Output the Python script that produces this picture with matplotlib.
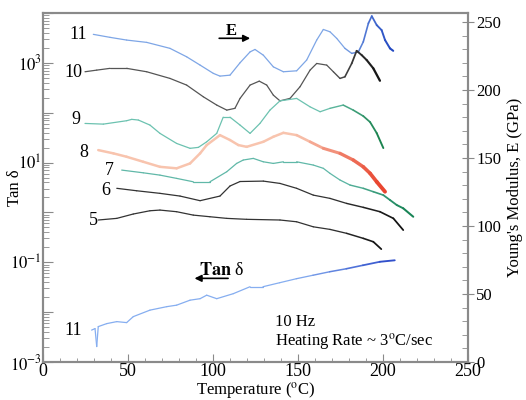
import numpy as np
import matplotlib
matplotlib.use("Agg")
import matplotlib.pyplot as plt
from matplotlib.collections import LineCollection
from matplotlib.colors import to_rgb
from matplotlib.ticker import MultipleLocator, LogLocator, FixedLocator, NullFormatter, FuncFormatter

# ---------------- data ----------------
T11 = [29.6, 39.4, 49.2, 61, 74.7, 84.5, 92.4, 100.2, 104.1, 110, 115.9, 121.8, 124.7, 129.6, 135.5, 141.4, 149.2, 155.1, 161, 164.9, 168.8, 172.8, 177.6, 181.6, 185.5, 188.4, 191.4, 193.4, 196.3, 199.2, 201.2, 204.1, 206]
E11 = [240.9, 238.7, 236.7, 235, 230.6, 224.4, 218.3, 212.2, 210.2, 210.9, 220, 228, 229.8, 225.6, 217, 213.4, 214.1, 222, 236.7, 244.5, 242.8, 237.9, 230.6, 226.9, 228, 235.4, 249, 254.3, 247.7, 244, 236.7, 230.6, 228.8]

T10 = [24.7, 31.6, 39.4, 49.2, 61, 74.7, 84.5, 94.3, 102.2, 108.1, 112.9, 115.9, 121.8, 127.2, 131.6, 135.5, 139.4, 145.3, 151.2, 157.1, 161, 166.9, 170.8, 174.7, 177.6, 181.6, 184.5, 187.5, 190.4, 194.3, 198.2]
E10 = [213.4, 214.6, 215.9, 215.9, 213.4, 208.5, 203.6, 195, 188.9, 185.2, 186.5, 193.8, 203.6, 206.5, 203.6, 196.2, 192, 193.8, 202.4, 214.6, 219.5, 218.3, 213.4, 208.5, 209.7, 219.5, 228.8, 225.6, 222, 215.9, 206.8]

T9 = [24.7, 35.5, 49.2, 52.2, 56.1, 62.9, 68.8, 78.6, 86.5, 91.4, 96.3, 102.2, 106, 110, 115.9, 121.8, 127.6, 133.5, 139.4, 149.2, 157.1, 163, 168.8, 176.6, 182.5, 188.4, 192.4, 196.3, 200.2]
E9 = [175.4, 174.9, 177.4, 178.4, 177.9, 174.2, 168.1, 160.7, 157.1, 157.8, 161.9, 168.1, 180, 180, 174.2, 168.1, 175.4, 185.2, 192, 193.8, 187.6, 184, 186.5, 188.9, 185.2, 180.8, 176.4, 168.3, 157.3]

T8 = [32.5, 41.4, 49.2, 59, 68.8, 78.6, 86.5, 92.4, 96.3, 104.1, 110, 114.9, 119.8, 129.6, 135.5, 141.4, 149.2, 157.1, 164.9, 174.7, 182.5, 188.4, 192.4, 196.3, 201.2]
E8 = [155.8, 153.4, 150.9, 147.2, 143.5, 142.4, 146, 153.4, 159.5, 166.8, 163.2, 159.5, 158.2, 161.9, 165.6, 168.5, 166.8, 161.9, 157.1, 153.4, 148.5, 143.5, 138.7, 132.5, 125.2]

T7 = [46.3, 59, 68.8, 78.6, 88.4, 98.2, 108.1, 113.9, 117.8, 123.7, 129.6, 135.5, 141.4, 149.2, 159, 164.9, 168.8, 174.7, 180.6, 188.4, 194.3, 200.2, 204.1, 208.1, 211.9, 217.8]
E7 = [141.1, 139.1, 137.4, 135, 132.5, 132.5, 139.9, 146, 148.5, 149.7, 147.2, 146, 147.2, 147.2, 144.8, 142.4, 138.7, 133.8, 130.1, 127.7, 125.2, 122.7, 119.1, 115.4, 113, 106.8]

T6 = [43.4, 55.1, 68.8, 80.6, 92.4, 104.1, 110, 115.9, 129.6, 139.4, 149.2, 159, 168.8, 178.6, 188.4, 198.2, 206.1, 211.9]
E6 = [127.7, 125.9, 124, 122, 118.6, 122, 129.4, 132.7, 133, 131.3, 127.7, 122.7, 120.3, 116.6, 113.7, 110.5, 105.6, 97]

T5 = [32.5, 43.4, 53.1, 62.9, 68.8, 78.6, 88.4, 98.2, 108.1, 119.8, 139.4, 149.2, 159, 168.8, 178.6, 188.4, 194.3, 199]
E5 = [104.4, 105.6, 108.8, 111.2, 111.7, 110.5, 108, 106.8, 105.6, 104.9, 104.4, 103.1, 99.4, 97.5, 94.6, 90.9, 88.4, 83]

# Tan delta of sample 11 (left, log axis): log10 values
Ttan = [28.6, 30.6, 31.6, 32.5, 37.5, 43.4, 49.2, 53.1, 62.9, 72.8, 78.6, 86.5, 92.4, 96.3, 102.2, 111.9, 121.8, 129.4, 139.2, 149, 158.8, 168.6, 178.4, 188.2, 198.1, 206.9]
logtan11 = [-2.36, -2.33, -2.69, -2.29, -2.23, -2.19, -2.21, -2.09, -1.96, -1.89, -1.86, -1.76, -1.73, -1.66, -1.73, -1.63, -1.49, -1.49, -1.41, -1.33, -1.26, -1.19, -1.13, -1.06, -0.99, -0.96]
tan11 = [10 ** v for v in logtan11]

labels = ["11", "10", "9", "8", "7", "6", "5"]

# ---------------- style ----------------
plt.rcParams['font.family'] = 'serif'
plt.rcParams['font.serif'] = ['Liberation Serif', 'DejaVu Serif']
plt.rcParams['mathtext.fontset'] = 'stix'

fig = plt.figure(figsize=(5.26, 4.0), dpi=100)
ax = fig.add_axes([43/526, 1-362/400, (468-43)/526, (362-13)/400])
ax2 = ax.twinx()

def grad_line(axis, x, y, c0, c1, t0, lw0=1.0, lw1=1.0, z=3):
    x = np.asarray(x, float); y = np.asarray(y, float)
    pts = np.column_stack([x, y]).reshape(-1, 1, 2)
    segs = np.concatenate([pts[:-1], pts[1:]], axis=1)
    xm = 0.5 * (x[:-1] + x[1:])
    f = np.clip((xm - t0) / (x[-1] - t0), 0, 1)
    a, b = np.array(to_rgb(c0)), np.array(to_rgb(c1))
    cols = a[None, :] * (1 - f[:, None]) + b[None, :] * f[:, None]
    lws = lw0 + (lw1 - lw0) * f
    lc = LineCollection(segs, colors=cols, linewidths=lws, zorder=z, capstyle='round', joinstyle='round')
    axis.add_collection(lc)

grad_line(ax2, T11, E11, '#7ea6e6', '#1f45c0', 175, 0.9, 1.5)
grad_line(ax2, T10, E10, '#555555', '#111111', 170, 0.9, 1.7)
grad_line(ax2, T9, E9, '#6cc2b0', '#17804a', 165, 0.9, 1.4)
grad_line(ax2, T8, E8, '#f8c4ae', '#e8402a', 150, 1.8, 2.8)
grad_line(ax2, T7, E7, '#60b8a8', '#138050', 175, 0.9, 1.5)
grad_line(ax2, T6, E6, '#333333', '#111111', 170, 0.9, 1.3)
grad_line(ax2, T5, E5, '#333333', '#111111', 170, 0.9, 1.3)
grad_line(ax, Ttan, tan11, '#86aef0', '#2a48c8', 150, 0.9, 1.4)

# axes ranges & ticks
ax.set_xlim(0, 250)
ax.set_yscale('log')
ax.set_ylim(1e-3, 1e4)
ax2.set_ylim(0, 256.6)

ax.xaxis.set_major_locator(MultipleLocator(50))
ax.xaxis.set_minor_locator(MultipleLocator(10))
ax.yaxis.set_major_locator(FixedLocator([1e-3, 1e-2, 1e-1, 1, 1e1, 1e2, 1e3, 1e4]))
ax.yaxis.set_major_formatter(FuncFormatter(
    lambda v, p: {1e-3: r'$10^{-3}$', 1e-1: r'$10^{-1}$', 1e1: r'$10^{1}$', 1e3: r'$10^{3}$'}.get(v, '')))
ax.yaxis.set_minor_locator(LogLocator(base=10, subs=np.arange(2, 10), numticks=20))
ax.yaxis.set_minor_formatter(NullFormatter())
ax2.yaxis.set_major_locator(MultipleLocator(50))
ax2.yaxis.set_minor_locator(MultipleLocator(10))

frame = '#8a8a8a'
for a_ in (ax, ax2):
    for s in a_.spines.values():
        s.set_color(frame)
        s.set_linewidth(1.5)
ax.tick_params(axis='x', which='major', direction='in', length=6, color=frame, labelsize=13, pad=1)
ax.tick_params(axis='x', which='minor', direction='in', length=3, color=frame)
ax.tick_params(axis='y', which='major', direction='in', length=7, color=frame, labelsize=12, pad=1)
ax.tick_params(axis='y', which='minor', direction='in', length=4, color=frame)
ax2.tick_params(axis='y', which='major', direction='inout', length=8, color=frame, labelsize=12, pad=2)
ax2.tick_params(axis='y', which='minor', direction='in', length=4, color=frame)

ax.set_xlabel(r'Temperature ($^{\mathrm{o}}$C)', fontsize=12, labelpad=0)
ax.set_ylabel('Tan δ', fontsize=12)
ax.yaxis.set_label_coords(-0.048, 0.5)
ax2.set_ylabel("Young's Modulus, E (GPa)", fontsize=12, labelpad=4)

# curve labels (placed in E-axis data coords)
lab_pos = [(26, 241), (23, 213), (21.8, 178), (26.5, 154), (41.8, 141), (39.4, 126), (32.4, 104)]
for lab, (tx, ty) in zip(labels, lab_pos):
    ax2.text(tx, ty, lab, fontsize=13, ha='right', va='center')
ax2.text(23, 23.5, '11', fontsize=13, ha='right', va='center')

# E arrow annotation
ax2.text(111, 243, 'E', fontsize=12, fontweight='bold', ha='center', va='center')
ax2.annotate('', xy=(123.5, 238), xytext=(102, 238),
             arrowprops=dict(arrowstyle='-|>', color='black', lw=1.2, mutation_scale=10))
# Tan delta arrow annotation
ax2.text(92, 67, r'$\mathbf{Tan}$ δ', fontsize=13, ha='left', va='center')
ax2.annotate('', xy=(87.5, 61.5), xytext=(110.5, 61.5),
             arrowprops=dict(arrowstyle='-|>', color='black', lw=1.2, mutation_scale=10))

ax2.text(136.5, 29.4, '10 Hz', fontsize=12, ha='left', va='center')
ax2.text(136.5, 14.7, r'Heating Rate ~ 3$^{\mathrm{o}}$C/sec', fontsize=12, ha='left', va='center')

fig.savefig('out.png', dpi=100)
